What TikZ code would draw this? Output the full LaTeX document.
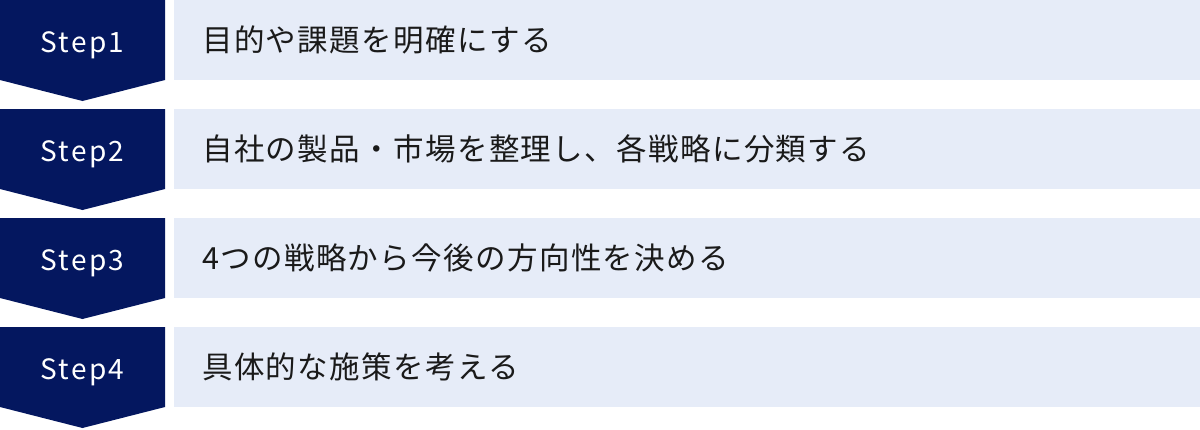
\documentclass[tikz,border=0pt]{standalone}
\usepackage{fontspec}
\setmainfont{Noto Sans}
\newfontfamily\jpspaced[LetterSpace=4.5]{Noto Sans CJK JP}
\newfontfamily\stepfont[LetterSpace=8]{Noto Sans CJK JP}
\definecolor{navy}{HTML}{04175F}
\definecolor{lightbox}{HTML}{E6ECF8}
\definecolor{txt}{HTML}{1A1A1A}
\begin{document}
\begin{tikzpicture}[x=1pt,y=-1pt,
  stepshape/.style={fill=navy,draw=none},
  bar/.style={fill=lightbox,draw=none},
  steplabel/.style={text=white,anchor=base,font=\stepfont\fontsize{28}{34}\selectfont,inner sep=0pt},
  barlabel/.style={text=txt,anchor=west,font=\jpspaced\fontsize{30.5}{36}\selectfont,inner sep=0pt}]
\useasboundingbox (0,0) rectangle (1200,429);
\foreach \i/\t in {1/目的や課題を明確にする,2/自社の製品・市場を整理し、各戦略に分類する,3/4つの戦略から今後の方向性を決める,4/具体的な施策を考える}{
  \pgfmathsetmacro{\top}{(\i-1)*109}
  \fill[stepshape] (0,\top) -- (165,\top) -- (165,\top+80) -- (82.5,\top+101) -- (0,\top+80) -- cycle;
  \fill[bar] (174,\top) rectangle (1200,\top+80);
  \node[steplabel] (s\i) at (82.5,\top+52.5) {Step\i};
  \node[barlabel] (t\i) at (202,\top+40) {\t};
}
\end{tikzpicture}
\end{document}
